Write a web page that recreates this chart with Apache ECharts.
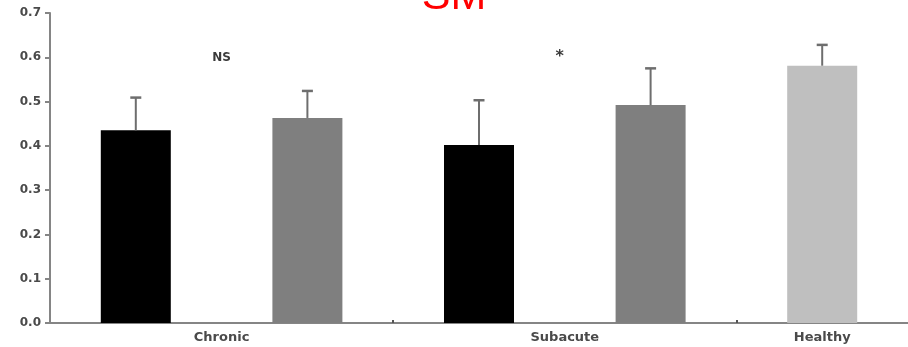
<!DOCTYPE html>
<html>
<head>
<meta charset="utf-8">
<style>html,body{margin:0;padding:0;background:#fff;}#c{width:908px;height:347px;}</style>
<script src="https://cdn.jsdelivr.net/npm/echarts@6/dist/echarts.min.js"></script>
</head>
<body>
<div id="c"></div>
<script>
// ---- data ----
var categories = ['Chronic', 'Subacute', 'Healthy'];
var categoryPos = [1, 3, 4.5];          // label positions on the slot axis
var groupBoundaries = [2, 4];           // tick marks between groups
var barPos = [0.5, 1.5, 2.5, 3.5, 4.5]; // bar slots
var barGroup = ['Chronic', 'Chronic', 'Subacute', 'Subacute', 'Healthy'];
var means = [0.435, 0.463, 0.402, 0.492, 0.581];
var errors = [0.074, 0.061, 0.101, 0.083, 0.047];
var annotPos = [1, 2.97];
var annotY = [0.598, 0.607];
var annotText = ['NS', '*'];

var barColors = ['#000000', '#7f7f7f', '#000000', '#7f7f7f', '#bfbfbf'];
var axisColor = '#858585';
var labelColor = '#4a4a4a';

var chart = echarts.init(document.getElementById('c'));
chart.setOption({
  animation: false,
  title: {
    text: 'SM',
    left: 'center',
    top: -29,
    textStyle: { color: '#ff0000', fontSize: 43, fontWeight: 'normal', fontFamily: 'Liberation Sans, Arial, sans-serif' }
  },
  grid: { left: 50, right: -4.5, top: 13, bottom: 24, containLabel: false },
  xAxis: {
    type: 'value', min: 0, max: 5,
    splitLine: { show: false },
    axisLine: { show: true, onZero: true, lineStyle: { color: axisColor, width: 2 } },
    axisTick: { show: true, inside: true, length: 3, customValues: groupBoundaries, lineStyle: { color: '#555', width: 2 } },
    axisLabel: {
      customValues: categoryPos,
      margin: 8,
      color: labelColor, fontSize: 13, fontWeight: 'bold', fontFamily: 'DejaVu Sans, sans-serif',
      formatter: function (v) { var i = categoryPos.indexOf(v); return i >= 0 ? categories[i] : ''; }
    }
  },
  yAxis: {
    type: 'value', min: 0, max: 0.7, interval: 0.1,
    splitLine: { show: false },
    axisLine: { show: true, lineStyle: { color: axisColor, width: 2 } },
    axisTick: { show: true, length: 5, lineStyle: { color: axisColor, width: 2 } },
    axisLabel: {
      margin: 9, color: labelColor, fontSize: 12, fontWeight: 'bold', fontFamily: 'DejaVu Sans, sans-serif',
      formatter: function (v) { return v.toFixed(1); }
    }
  },
  series: [
    {
      type: 'bar',
      barWidth: 70,
      data: barPos.map(function (x, i) { return [x, means[i]]; }),
      itemStyle: { color: function (p) { return barColors[p.dataIndex]; } },
      z: 2
    },
    {
      type: 'custom',
      data: barPos.map(function (x, i) { return [x, means[i], means[i] + errors[i]]; }),
      renderItem: function (params, api) {
        var x = api.value(0);
        var p0 = api.coord([x, api.value(1)]);
        var p1 = api.coord([x, api.value(2)]);
        var hw = 5.5;
        return {
          type: 'group',
          children: [
            { type: 'line', shape: { x1: p0[0], y1: p0[1], x2: p1[0], y2: p1[1] }, style: { stroke: '#6e6e6e', lineWidth: 2 } },
            { type: 'line', shape: { x1: p1[0] - hw, y1: p1[1], x2: p1[0] + hw, y2: p1[1] }, style: { stroke: '#6e6e6e', lineWidth: 2.5 } }
          ]
        };
      },
      z: 3
    },
    {
      type: 'custom',
      data: annotPos.map(function (x, i) { return [x, annotY[i], i]; }),
      renderItem: function (params, api) {
        var p = api.coord([api.value(0), api.value(1)]);
        var t = annotText[api.value(2)];
        return {
          type: 'text',
          x: p[0], y: p[1] + (t === '*' ? 3 : 0),
          style: {
            text: t, align: 'center', verticalAlign: 'middle',
            fill: '#3a3a3a', fontSize: t === '*' ? 16 : 12, fontWeight: 'bold', fontFamily: 'DejaVu Sans, sans-serif'
          }
        };
      },
      z: 4
    }
  ]
});
</script>
</body>
</html>
